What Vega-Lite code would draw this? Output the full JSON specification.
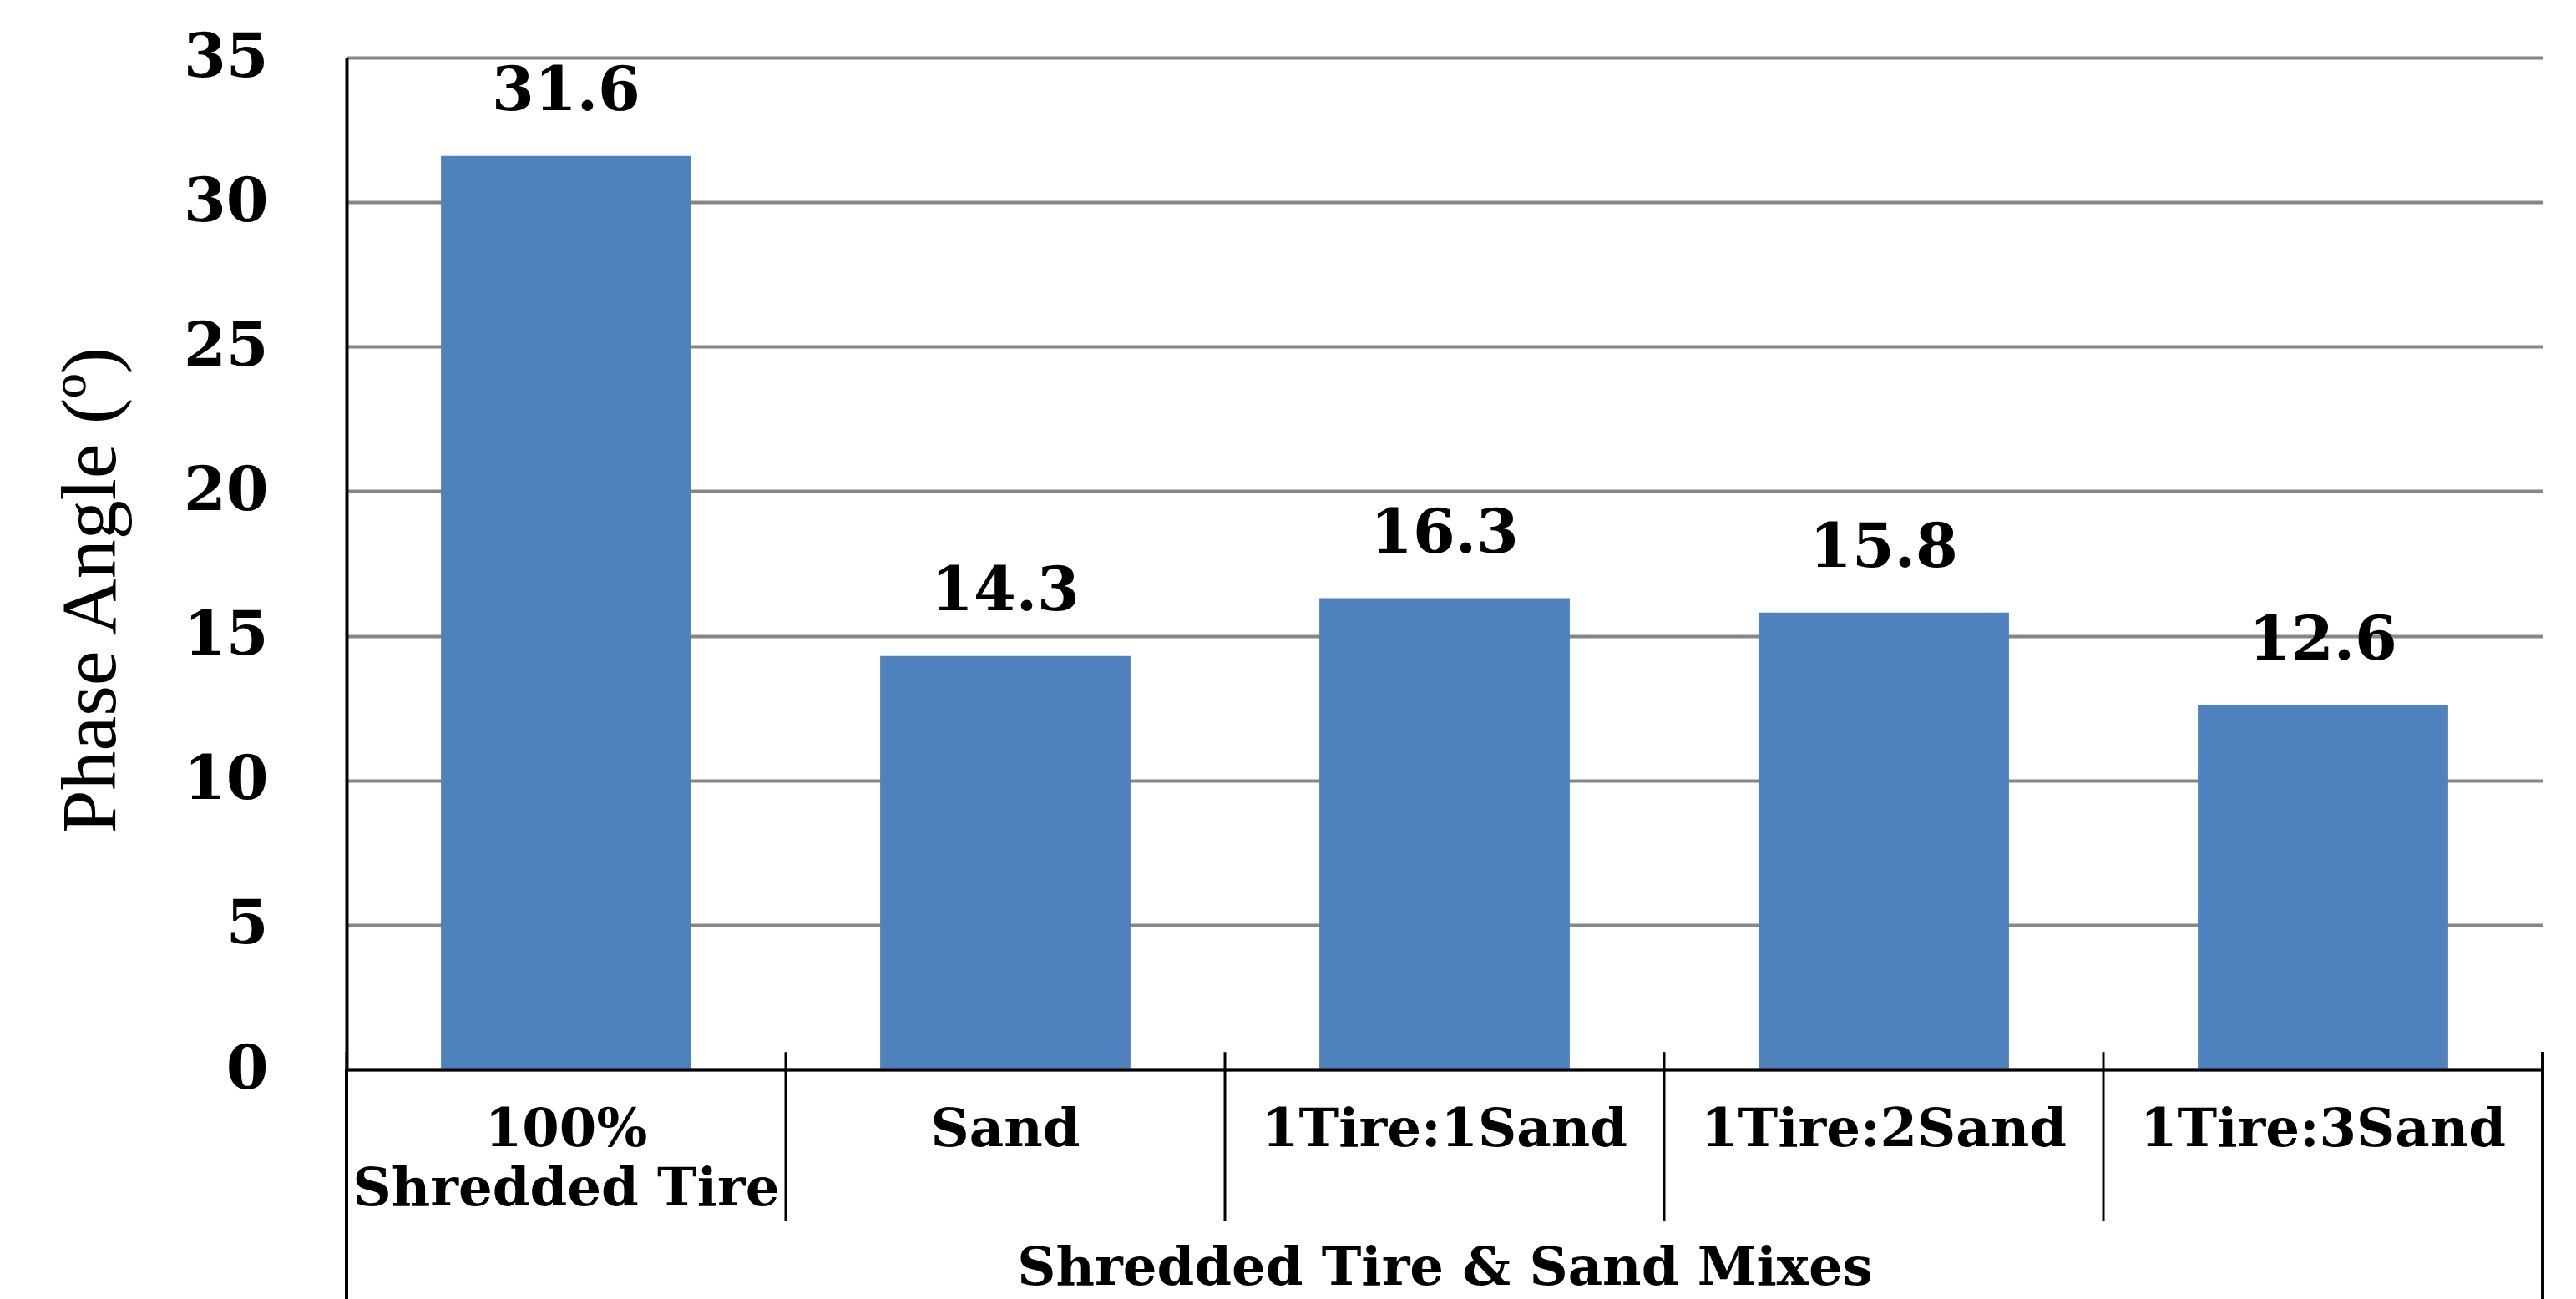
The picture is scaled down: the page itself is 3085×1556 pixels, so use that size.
{
  "$schema": "https://vega.github.io/schema/vega-lite/v6.json",
  "width": 2630,
  "height": 1212,
  "autosize": "none",
  "padding": {"left": 415, "top": 69, "right": 40, "bottom": 275},
  "background": "white",
  "config": {"view": {"stroke": null}},
  "data": {
    "values": [
      {"mix": "100% Shredded Tire", "angle": 31.6},
      {"mix": "Sand", "angle": 14.3},
      {"mix": "1Tire:1Sand", "angle": 16.3},
      {"mix": "1Tire:2Sand", "angle": 15.8},
      {"mix": "1Tire:3Sand", "angle": 12.6}
    ]
  },
  "encoding": {
    "x": {
      "field": "mix",
      "type": "nominal",
      "sort": null,
      "scale": {"paddingInner": 0, "paddingOuter": 0},
      "axis": {
        "title": "Shredded Tire & Sand Mixes",
        "titleFont": "DejaVu Serif",
        "titleFontWeight": "bold",
        "titleFontSize": 64,
        "titleColor": "black",
        "titleY": 257,
        "titleBaseline": "alphabetic",
        "labelAngle": 0,
        "labelFont": "DejaVu Serif",
        "labelFontWeight": "bold",
        "labelFontSize": 64,
        "labelColor": "black",
        "labelBaseline": "alphabetic",
        "labelPadding": 91,
        "labelLineHeight": 71,
        "labelLimit": 0,
        "labelOverlap": false,
        "labelExpr": "datum.value == '100% Shredded Tire' ? ['100%', 'Shredded Tire'] : datum.value",
        "ticks": false,
        "grid": false,
        "domainColor": "black",
        "domainWidth": 4,
        "zindex": 1
      }
    }
  },
  "layer": [
    {
      "mark": {"type": "bar", "color": "#4F81BD", "width": {"band": 0.57}},
      "encoding": {
        "y": {
          "field": "angle",
          "type": "quantitative",
          "scale": {"domain": [0, 35]},
          "axis": {
            "title": "Phase Angle (º)",
            "titleFont": "Liberation Serif",
            "titleFontWeight": "normal",
            "titleFontSize": 94,
            "titleColor": "black",
            "titleAngle": -90,
            "titleX": -278,
            "titleY": 638,
            "titleBaseline": "alphabetic",
            "titleAlign": "center",
            "values": [0, 5, 10, 15, 20, 25, 30, 35],
            "labelFont": "DejaVu Serif",
            "labelFontWeight": "bold",
            "labelFontSize": 73,
            "labelColor": "black",
            "labelBaseline": "middle",
            "labelPadding": 94,
            "ticks": false,
            "domainColor": "black",
            "domainWidth": 4,
            "gridColor": "#868686",
            "gridWidth": 4
          }
        }
      }
    },
    {
      "mark": {
        "type": "text",
        "font": "DejaVu Serif",
        "fontWeight": "bold",
        "fontSize": 73,
        "color": "black",
        "baseline": "alphabetic",
        "dy": -55
      },
      "encoding": {
        "y": {"field": "angle", "type": "quantitative"},
        "text": {"field": "angle", "type": "quantitative", "format": ".1f"}
      }
    },
    {
      "mark": {"type": "rule", "color": "black", "strokeWidth": 3},
      "encoding": {
        "x": {"field": "mix", "type": "nominal", "sort": null, "bandPosition": 0},
        "y": {"datum": 0.6},
        "y2": {"datum": -5.23}
      }
    },
    {
      "mark": {"type": "rule", "color": "black", "strokeWidth": 4},
      "encoding": {
        "x": {"datum": "100% Shredded Tire", "bandPosition": 0},
        "y": {"datum": 0},
        "y2": {"datum": -8}
      }
    },
    {
      "mark": {"type": "rule", "color": "black", "strokeWidth": 3},
      "encoding": {
        "x": {"datum": "1Tire:3Sand", "bandPosition": 1},
        "y": {"datum": 0.6},
        "y2": {"datum": -8}
      }
    }
  ]
}
